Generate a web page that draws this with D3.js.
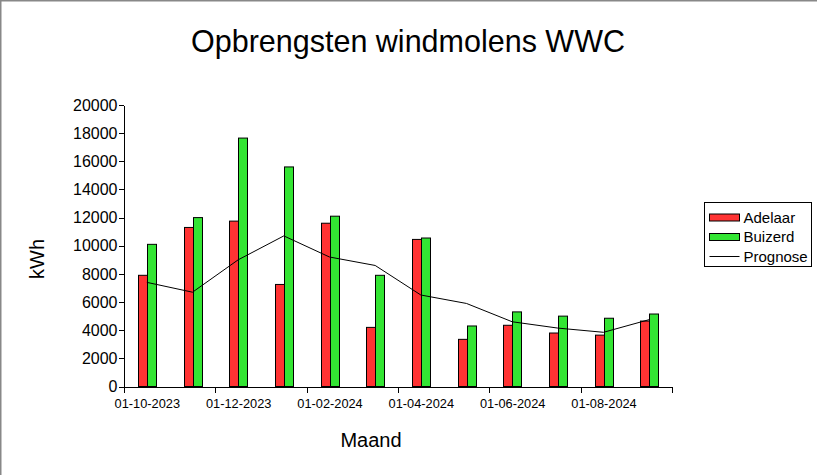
<!DOCTYPE html>
<html>
<head>
<meta charset="utf-8">
<script src="https://cdn.jsdelivr.net/npm/d3@7"></script>
<style>
    body { margin: 0; background: #fff; }
    svg { display: block; font-family: "Liberation Sans", Arial, sans-serif; }
    .axis path, .axis line { stroke: #000; shape-rendering: crispEdges; }
    .axis text { fill: #000; }
</style>
</head>
<body>
<div id="viewportContainer"></div>
<script>
/* --- データ --- */
const months = ["01-10-2023", "01-11-2023", "01-12-2023", "01-01-2024", "01-02-2024", "01-03-2024",
                "01-04-2024", "01-05-2024", "01-06-2024", "01-07-2024", "01-08-2024", "01-09-2024"];
const adelaar = [7900, 11300, 11750, 7250, 11600, 4200, 10450, 3350, 4350, 3800, 3650, 4650];
const buizerd = [10100, 12000, 17650, 15600, 12100, 7900, 10550, 4300, 5300, 5000, 4850, 5150];
const prognose = [7400, 6700, 9000, 10700, 9200, 8600, 6500, 5900, 4600, 4150, 3850, 4750];
const xTickLabels = ["01-10-2023", "01-12-2023", "01-02-2024", "01-04-2024", "01-06-2024", "01-08-2024", ""];
const yTicks = [0, 2000, 4000, 6000, 8000, 10000, 12000, 14000, 16000, 18000, 20000];
const seriesNames = ["Adelaar", "Buizerd", "Prognose"];

/* --- ビューポート --- */
const viewport = {width: 818, height: 475};
const plot = {left: 124, right: 672, top: 105, bottom: 386.5};
const colors = {Adelaar: "#FF3333", Buizerd: "#33E533"};

const svg = d3.select("#viewportContainer")
    .append("svg")
    .attr("width", viewport.width)
    .attr("height", viewport.height);

/*--- 枠線 ---*/
svg.append("line").attr("x1", 0.5).attr("x2", 0.5).attr("y1", 0).attr("y2", viewport.height)
    .attr("stroke", "#888").attr("stroke-width", 2);
svg.append("line").attr("x1", 0).attr("x2", 817).attr("y1", 0.5).attr("y2", 0.5)
    .attr("stroke", "#888").attr("stroke-width", 2);

/*--- スケール ---*/
const xScale = d3.scaleLinear().domain([0, months.length]).range([plot.left, plot.right]);
const yScale = d3.scaleLinear().domain([0, 20000]).range([plot.bottom, plot.top]);
const band = xScale(1) - xScale(0);
const barW = band * 0.197;

/*--- 軸 ---*/
const xAxis = d3.axisBottom(xScale)
    .tickValues(d3.range(0, months.length + 1, 2))
    .tickFormat((d, i) => xTickLabels[i])
    .tickSize(6).tickSizeOuter(0);
const yAxis = d3.axisLeft(yScale)
    .tickValues(yTicks)
    .tickFormat(d3.format("d"))
    .tickSize(5).tickSizeOuter(0);

// ラベルは月の中央に置く（目盛りは月の境界）
svg.append("g")
    .attr("class", "x axis")
    .attr("transform", "translate(0," + plot.bottom + ")")
    .call(xAxis)
    .call(g => g.selectAll("text")
        .attr("font-size", 12.8)
        .attr("x", band / 2)
        .attr("dy", "0.95em"));

svg.append("g")
    .attr("class", "y axis")
    .attr("transform", "translate(" + (plot.left - 0.5) + ",0)")
    .call(yAxis)
    .call(g => g.selectAll("text").attr("font-size", 16).attr("x", -6));

/*--- 棒 ---*/
const chart = svg.append("g");
chart.selectAll(".bar-a")
    .data(adelaar)
    .enter().append("rect")
    .attr("class", "bar-a")
    .attr("x", (d, i) => Math.round(xScale(i + 0.5) - barW) + 0.5)
    .attr("y", d => yScale(d))
    .attr("width", Math.round(barW))
    .attr("height", d => yScale(0) - yScale(d))
    .attr("fill", colors.Adelaar)
    .attr("stroke", "#000");

chart.selectAll(".bar-b")
    .data(buizerd)
    .enter().append("rect")
    .attr("class", "bar-b")
    .attr("x", (d, i) => Math.round(xScale(i + 0.5)) + 0.5)
    .attr("y", d => yScale(d))
    .attr("width", Math.round(barW))
    .attr("height", d => yScale(0) - yScale(d))
    .attr("fill", colors.Buizerd)
    .attr("stroke", "#000");

/*--- プログノーズ線 ---*/
const line = d3.line()
    .x((d, i) => xScale(i + 0.5))
    .y(d => yScale(d));
chart.append("path")
    .datum(prognose)
    .attr("d", line)
    .attr("fill", "none")
    .attr("stroke", "#000")
    .attr("stroke-width", 1);

/*--- タイトル・ラベル ---*/
svg.append("text")
    .attr("x", 408).attr("y", 52)
    .attr("text-anchor", "middle")
    .attr("font-size", 30.5)
    .text("Opbrengsten windmolens WWC");

svg.append("text")
    .attr("transform", "translate(44,259) rotate(-90)")
    .attr("text-anchor", "middle")
    .attr("font-size", 20)
    .text("kWh");

svg.append("text")
    .attr("x", 371).attr("y", 447)
    .attr("text-anchor", "middle")
    .attr("font-size", 20)
    .text("Maand");

/*--- 凡例 ---*/
const legend = svg.append("g").attr("transform", "translate(704.5,202.5)");
legend.append("rect")
    .attr("width", 107).attr("height", 64)
    .attr("fill", "#fff").attr("stroke", "#000");

const items = legend.selectAll(".item")
    .data(seriesNames)
    .enter().append("g")
    .attr("class", "item")
    .attr("transform", (d, i) => "translate(5," + (15 + i * 19.5) + ")");

items.filter(d => d !== "Prognose").append("rect")
    .attr("x", 0).attr("y", -3.5)
    .attr("width", 30).attr("height", 7)
    .attr("fill", d => colors[d])
    .attr("stroke", "#000");

items.filter(d => d === "Prognose").append("line")
    .attr("x1", 0).attr("x2", 30)
    .attr("stroke", "#000");

items.append("text")
    .attr("x", 34).attr("dy", "0.36em")
    .attr("font-size", 15)
    .text(d => d);
</script>
</body>
</html>
